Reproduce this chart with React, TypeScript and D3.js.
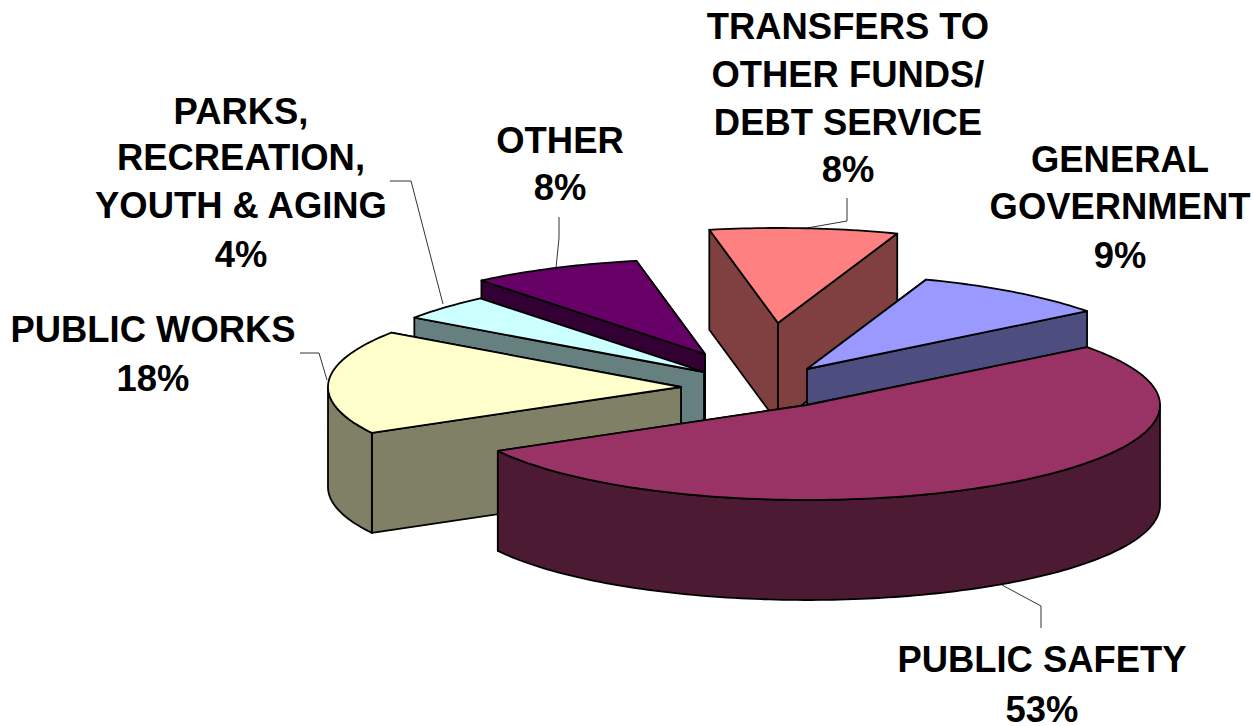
import React from "react";
import * as d3 from "d3";

const categories = ["PUBLIC SAFETY", "PUBLIC WORKS", "PARKS, RECREATION, YOUTH & AGING", "OTHER", "TRANSFERS TO OTHER FUNDS/ DEBT SERVICE", "GENERAL GOVERNMENT"];
// slice sizes; the printed labels are rounded
const shares = [52.4, 17.7, 4.4, 7.8, 8.6, 9.1];
const topColors = ["#993366", "#FFFFCC", "#CCFFFF", "#660066", "#FF8080", "#9999FF"];
const wallColors = ["#4D1A33", "#808066", "#668080", "#330033", "#804040", "#4D4D80"];

// explosion of each slice: pie-centre offsets
const centerX = [807, 681, 704, 705, 778, 807];
const centerY = [405, 387, 372, 354, 323, 369];
// painter's order (back to front)
const drawOrder = [3, 2, 4, 5, 1, 0];

const RX = 353;
const RY = 95;
const DEPTH = 100;
const START_ANGLE = (52.5 * Math.PI) / 180; // d3.pie angle, clockwise from 12 o'clock

const labelLines = [
  ["PUBLIC SAFETY", "53%"],
  ["PUBLIC WORKS", "18%"],
  ["PARKS,", "RECREATION,", "YOUTH & AGING", "4%"],
  ["OTHER", "8%"],
  ["TRANSFERS TO", "OTHER FUNDS/", "DEBT SERVICE", "8%"],
  ["GENERAL", "GOVERNMENT", "9%"],
];
const labelX = [1042, 153, 241, 560, 848, 1120];
const labelBaselines = [
  [672, 722],
  [342, 391],
  [123.5, 170, 218, 267],
  [153, 200],
  [39, 87, 135, 182],
  [172, 219, 268],
];
const leaders = [
  [[1002, 585], [1041, 606], [1041, 628]],
  [[300, 353], [319, 353], [327, 380]],
  [[390, 181], [411, 181], [443, 304]],
  [[559, 217], [559, 238], [556, 268]],
  [[847, 198], [847, 221], [807, 228]],
  [] as number[][],
];

const arcs = d3
  .pie<number>()
  .sort(null)
  .startAngle(START_ANGLE)
  .endAngle(START_ANGLE + 2 * Math.PI)(shares);

const line = d3.line();

function arcPoints(cx: number, cy: number, a0: number, a1: number): [number, number][] {
  const n = Math.max(2, Math.ceil(Math.abs(a1 - a0) / 0.02));
  const t = d3.scaleLinear().domain([0, n]).range([a0, a1]);
  return d3.range(n + 1).map((i) => {
    const a = t(i);
    return [cx + RX * Math.sin(a), cy - RY * Math.cos(a)];
  });
}

function Slice({ i }: { i: number }) {
  const cx = centerX[i];
  const cy = centerY[i];
  const { startAngle: a0, endAngle: a1 } = arcs[i];
  const top = arcPoints(cx, cy, a0, a1);
  const first = top[0];
  const last = top[top.length - 1];
  const wall = (p: [number, number]) =>
    line([[cx, cy], p, [p[0], p[1] + DEPTH], [cx, cy + DEPTH]]) + "Z";
  const walls = first[1] < last[1] ? [first, last] : [last, first];

  // front-facing part of the rim: angles between 90° and 270° (d3.pie convention)
  const lo = Math.PI / 2;
  const hi = (3 * Math.PI) / 2;
  const rims: [number, number][] = [];
  for (const k of [0, 2]) {
    const s = Math.max(a0, lo + k * Math.PI);
    const e = Math.min(a1, hi + k * Math.PI);
    if (e > s) rims.push([s, e]);
  }
  const stroke = { stroke: "#000", strokeWidth: 1.8, strokeLinejoin: "round" as const };
  return (
    <g>
      {walls.map((p, k) => (
        <path key={k} d={wall(p)} fill={wallColors[i]} {...stroke} />
      ))}
      {rims.map(([s, e], k) => {
        const up = arcPoints(cx, cy, s, e);
        const down = up.map(([x, y]) => [x, y + DEPTH] as [number, number]).reverse();
        return <path key={k} d={line([...up, ...down]) + "Z"} fill={wallColors[i]} {...stroke} />;
      })}
      <path d={line([[cx, cy], ...top]) + "Z"} fill={topColors[i]} {...stroke} />
    </g>
  );
}

export default function App() {
  return (
    <svg
      width={1253}
      height={726}
      style={{ position: "absolute", left: 0, top: 0, background: "#fff" }}
      aria-label={categories.join(", ")}
    >
      {leaders.map((pts, i) =>
        pts.length ? (
          <path key={i} d={line(pts as [number, number][]) ?? ""} fill="none" stroke="#333" strokeWidth={1} />
        ) : null
      )}
      {drawOrder.map((i) => (
        <Slice key={i} i={i} />
      ))}
      {labelLines.map((lines, i) => (
        <text
          key={i}
          textAnchor="middle"
          fontFamily="'Liberation Sans', Arial, sans-serif"
          fontWeight={700}
          fontSize={36.4}
          fill="#000"
        >
          {lines.map((l, k) => (
            <tspan key={k} x={labelX[i]} y={labelBaselines[i][k]}>
              {l}
            </tspan>
          ))}
        </text>
      ))}
    </svg>
  );
}
